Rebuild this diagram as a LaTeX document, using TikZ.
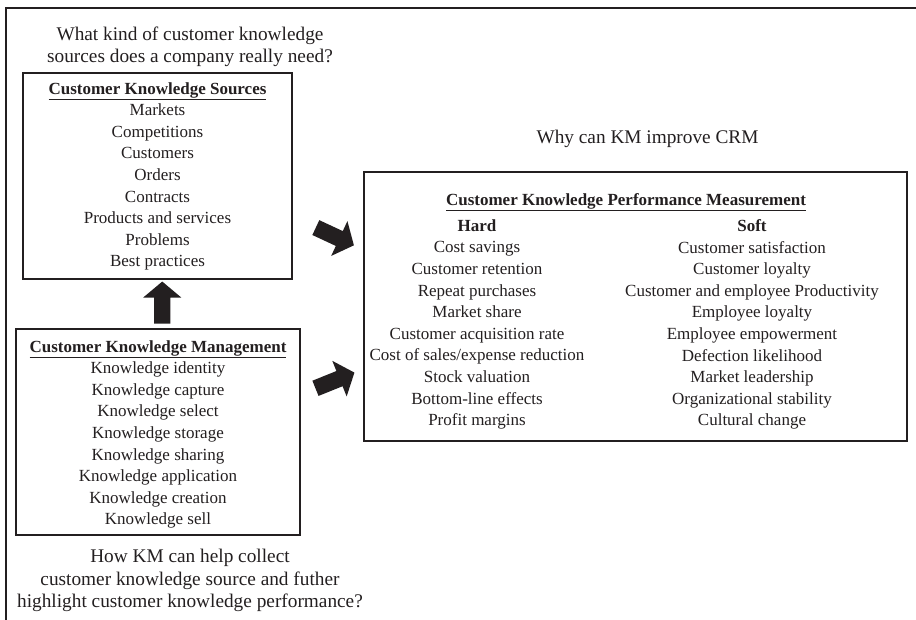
\documentclass[tikz,border=0pt]{standalone}
\usepackage{fontspec}
\setmainfont{Liberation Serif}
\usetikzlibrary{shapes.arrows}
\definecolor{ink}{RGB}{35,31,32}
\begin{document}
\begin{tikzpicture}[x=1pt,y=-1pt,
  every node/.style={text=ink},
  box/.style={draw=ink, line width=1.8pt, inner sep=0pt},
  lst/.style={align=center, inner sep=0pt, font=\fontsize{17}{21.6}\selectfont},
  qst/.style={align=center, inner sep=0pt, font=\fontsize{19.3}{22.3}\selectfont},
  blockarrow/.style={single arrow, fill=ink, draw=none, inner xsep=0pt, inner ysep=8pt,
    minimum height=42pt, single arrow head extend=11pt, single arrow tip angle=100,
    single arrow head indent=0pt},
]
\useasboundingbox (0,0) rectangle (916,620);
\fill[white] (0,0) rectangle (916,620);
% outer frame (only top and left edges visible)
\draw[ink, line width=2.2pt] (6,625) -- (6,8) -- (925,8);

% boxes
\node[box, minimum width=269pt, minimum height=206pt] (cks) at (157.5,176) {};
\node[box, minimum width=284pt, minimum height=206pt] (ckm) at (158,432) {};
\node[box, minimum width=543pt, minimum height=269pt] (ckpm) at (635.5,306.5) {};

% questions
\node[qst] (q1) at (190,46.5) {What kind of customer knowledge\\sources does a company really need?};
\node[qst] (q2) at (647.5,138.5) {Why can KM improve CRM};
\node[qst] (q3) at (190,580.5) {How KM can help collect\\customer knowledge source and futher\\highlight customer knowledge performance?};

% box contents
\node[lst] (cksT) at (157.5,176.5) {\underline{\textbf{Customer Knowledge Sources}}\\Markets\\Competitions\\Customers\\Orders\\Contracts\\Products and services\\Problems\\Best practices};
\node[lst] (ckmT) at (158,434.5) {\underline{\textbf{Customer Knowledge Management}}\\Knowledge identity\\Knowledge capture\\Knowledge select\\Knowledge storage\\Knowledge sharing\\Knowledge application\\Knowledge creation\\Knowledge sell};
\node[lst] (ckpmT) at (626,202) {\underline{\textbf{Customer Knowledge Performance Measurement}}};
\node[lst] (hard) at (477,324.5) {\textbf{Hard}\\Cost savings\\Customer retention\\Repeat purchases\\Market share\\Customer acquisition rate\\Cost of sales/expense reduction\\Stock valuation\\Bottom-line effects\\Profit margins};
\node[lst] (soft) at (752,324.5) {\textbf{Soft}\\Customer satisfaction\\Customer loyalty\\Customer and employee Productivity\\Employee loyalty\\Employee empowerment\\Defection likelihood\\Market leadership\\Organizational stability\\Cultural change};

% block arrows
\node[blockarrow, rotate=-25] (a1) at (331.75,235) {};
\node[blockarrow, rotate=22] (a2) at (331.75,381.75) {};
\node[blockarrow, rotate=90] (a3) at (162.25,306) {};
\end{tikzpicture}
\end{document}
